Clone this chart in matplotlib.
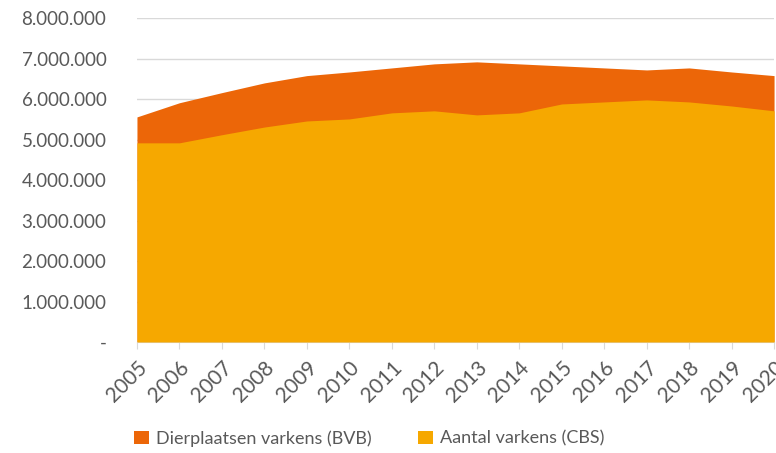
import matplotlib.pyplot as plt
from matplotlib.ticker import FuncFormatter

years = list(range(2005, 2021))
# Dierplaatsen varkens (BVB)
bvb = [5560000, 5910000, 6160000, 6400000, 6580000, 6670000, 6770000, 6870000,
       6920000, 6870000, 6820000, 6770000, 6720000, 6770000, 6670000, 6580000]
# Aantal varkens (CBS)
cbs = [4920000, 4920000, 5120000, 5310000, 5460000, 5510000, 5660000, 5710000,
       5610000, 5660000, 5880000, 5930000, 5980000, 5930000, 5830000, 5710000]

plt.rcParams['font.family'] = ['Lato', 'DejaVu Sans']
grey = '#595959'

fig = plt.figure(figsize=(7.76, 4.53), dpi=100)
ax = fig.add_axes([0.1765, 0.245, 0.821, 0.715])

ax.fill_between(years, 0, bvb, color='#EC6608', linewidth=0, label='Dierplaatsen varkens (BVB)', zorder=2)
ax.fill_between(years, 0, cbs, color='#F6A800', linewidth=0, label='Aantal varkens (CBS)', zorder=3)

ax.set_xlim(2005, 2020)
ax.set_ylim(0, 8000000)
ax.set_yticks(range(0, 8000001, 1000000))

def fmt(v, pos):
    if v == 0:
        return '-'
    return f'{int(v):,}'.replace(',', '.')

ax.yaxis.set_major_formatter(FuncFormatter(fmt))
ax.set_xticks(years)
ax.set_xticklabels([str(y) for y in years], rotation=45, ha='right', rotation_mode='anchor')

ax.grid(axis='y', color='#d9d9d9', linewidth=1, zorder=0)
ax.set_axisbelow(True)
for s in ['top', 'right', 'left']:
    ax.spines[s].set_visible(False)
ax.spines['bottom'].set_color('#d9d9d9')
ax.tick_params(axis='y', length=0, labelsize=13.5, labelcolor=grey, pad=22)
ax.tick_params(axis='x', length=5, color='#d9d9d9', labelsize=15, labelcolor=grey, pad=6)

fig.legend(loc='lower center', bbox_to_anchor=(0.476, -0.022), ncol=2, frameon=False,
           fontsize=13, labelcolor=grey, handlelength=0.8, handleheight=0.8,
           columnspacing=2.6, handletextpad=0.4)

fig.savefig('out.png', dpi=100)
